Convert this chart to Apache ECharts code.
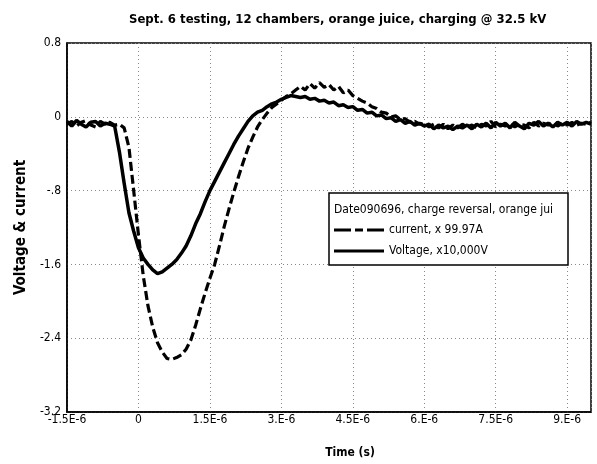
<!DOCTYPE html>
<html>
<head>
<meta charset="utf-8">
<script src="https://cdn.jsdelivr.net/npm/echarts@6/dist/echarts.min.js"></script>
<style>html,body{margin:0;padding:0;background:#fff}#c{width:597px;height:464px}</style>
</head>
<body>
<div id="c"></div>
<script>
// time in microseconds
var timeUs = [
  -1.5,-1.4,-1.3,-1.2,-1.1,-1.0,-0.9,-0.8,-0.7,-0.6,
  -0.5,-0.4,-0.3,-0.2,-0.1,0.0,0.1,0.2,0.3,0.4,
  0.5,0.6,0.7,0.8,0.9,1.0,1.1,1.2,1.3,1.4,
  1.5,1.6,1.7,1.8,1.9,2.0,2.1,2.2,2.3,2.4,
  2.5,2.6,2.7,2.8,2.9,3.0,3.1,3.2,3.3,3.4,
  3.5,3.6,3.7,3.8,3.9,4.0,4.1,4.2,4.3,4.4,
  4.5,4.6,4.7,4.8,4.9,5.0,5.1,5.2,5.3,5.4,
  5.5,5.6,5.7,5.8,5.9,6.0,6.1,6.2,6.3,6.4,
  6.5,6.6,6.7,6.8,6.9,7.0,7.1,7.2,7.3,7.4,
  7.5,7.6,7.7,7.8,7.9,8.0,8.1,8.2,8.3,8.4,
  8.5,8.6,8.7,8.8,8.9,9.0,9.1,9.2,9.3,9.4,
  9.5
];
var currentVals = [
  -0.08,-0.05,-0.10,-0.06,-0.04,-0.09,-0.11,-0.05,-0.08,-0.06,
  -0.09,-0.08,-0.12,-0.33,-0.80,-1.28,-1.72,-2.05,-2.28,-2.45,
  -2.55,-2.62,-2.63,-2.61,-2.58,-2.52,-2.42,-2.26,-2.08,-1.91,
  -1.75,-1.60,-1.40,-1.19,-1.00,-0.82,-0.65,-0.49,-0.34,-0.22,
  -0.11,-0.03,0.04,0.10,0.14,0.18,0.22,0.25,0.29,0.33,
  0.29,0.36,0.31,0.37,0.32,0.35,0.29,0.33,0.26,0.29,
  0.23,0.20,0.17,0.15,0.11,0.09,0.05,0.04,0.00,0.01,
  -0.03,-0.02,-0.06,-0.05,-0.08,-0.07,-0.11,-0.08,-0.12,-0.08,
  -0.13,-0.09,-0.12,-0.08,-0.11,-0.09,-0.12,-0.08,-0.10,-0.05,
  -0.11,-0.08,-0.10,-0.07,-0.11,-0.08,-0.09,-0.12,-0.06,-0.10,
  -0.07,-0.09,-0.06,-0.10,-0.07,-0.09,-0.06,-0.09,-0.07,-0.08,
  -0.06
];
var voltageVals = [
  -0.05,-0.10,-0.04,-0.08,-0.11,-0.06,-0.05,-0.10,-0.07,-0.08,
  -0.10,-0.38,-0.72,-1.04,-1.24,-1.42,-1.53,-1.60,-1.66,-1.70,
  -1.68,-1.64,-1.60,-1.55,-1.48,-1.40,-1.29,-1.16,-1.05,-0.92,
  -0.80,-0.70,-0.60,-0.50,-0.40,-0.30,-0.21,-0.13,-0.05,0.01,
  0.05,0.07,0.11,0.14,0.16,0.19,0.21,0.23,0.22,0.21,
  0.22,0.19,0.20,0.17,0.18,0.15,0.16,0.12,0.13,0.10,
  0.11,0.07,0.08,0.04,0.05,0.01,0.02,-0.02,-0.01,-0.05,
  -0.03,-0.07,-0.05,-0.09,-0.07,-0.10,-0.08,-0.13,-0.09,-0.12,
  -0.10,-0.14,-0.10,-0.12,-0.09,-0.13,-0.08,-0.11,-0.07,-0.12,
  -0.06,-0.10,-0.07,-0.12,-0.06,-0.10,-0.13,-0.07,-0.09,-0.05,
  -0.10,-0.07,-0.11,-0.06,-0.09,-0.06,-0.10,-0.05,-0.08,-0.06,
  -0.08
];
var xTickValues = [-1.5, 0, 1.5, 3, 4.5, 6, 7.5, 9];
var xTickLabels = ["-1.5E-6","0","1.5E-6","3.E-6","4.5E-6","6.E-6","7.5E-6","9.E-6"];
var yTickValues = [0.8, 0, -0.8, -1.6, -2.4, -3.2];
var yTickLabels = ["0.8","0","-.8","-1.6","-2.4","-3.2"];
var seriesNames = ["current, x 99.97A", "Voltage, x10,000V"];
var legendHeader = "Date090696, charge reversal, orange jui";
var chartTitle = "Sept. 6 testing, 12 chambers, orange juice, charging @ 32.5 kV";

var FONT = '"Liberation Sans Narrow","Arial Narrow","DejaVu Sans Condensed",sans-serif';

function zip(t, v){ return t.map(function(x,i){ return [x, v[i]]; }); }
function lookup(vals, labs, v){
  for (var i=0;i<vals.length;i++){ if (Math.abs(vals[i]-v) < 1e-6) return labs[i]; }
  return '';
}

var chart = echarts.init(document.getElementById('c'), null, {renderer:'canvas'});
chart.setOption({
  animation: false,
  backgroundColor: '#fff',
  title: [{
    text: chartTitle, left: 124, top: 8,
    textStyle: {fontFamily: FONT, fontWeight: 'bold', fontSize: 13, color: '#000'}
  },{
    text: legendHeader, left: 329, top: 199, z: 200,
    textStyle: {fontFamily: FONT, fontWeight: 'normal', fontSize: 12, color: '#000'}
  }],
  graphic: [{
    type: 'rect', z: 100,
    shape: {x: 329, y: 193, width: 239, height: 72},
    style: {fill: '#fff', stroke: '#000', lineWidth: 1.5}
  }],
  legend: {
    orient: 'vertical', left: 329, top: 219, z: 200,
    itemWidth: 50, itemHeight: 3, itemGap: 9, symbolKeepAspect: false,
    data: [
      {name: seriesNames[0], icon: 'path://M0,0h17v3h-17z M21,0h8v3h-8z M33,0h17v3h-17z'},
      {name: seriesNames[1], icon: 'path://M0,0h50v3h-50z'}
    ],
    itemStyle: {color: '#000'},
    textStyle: {fontFamily: FONT, fontSize: 12, color: '#000'}
  },
  grid: {left: 67, right: 6, top: 43, bottom: 51, show: true, borderColor: '#000', borderWidth: 1.5},
  xAxis: {
    type: 'value', min: -1.5, max: 9.5, interval: 1.5,
    name: 'Time (s)', nameLocation: 'middle', nameGap: 35,
    nameTextStyle: {fontFamily: FONT, fontWeight: 'bold', fontSize: 12, color: '#000', padding: [0,0,0,42]},
    axisLine: {show: true, onZero: false, lineStyle: {color: '#000', width: 1.5}},
    axisTick: {show: false},
    axisLabel: {margin: 2, fontFamily: FONT, fontSize: 12, color: '#000',
      formatter: function(v){ return lookup(xTickValues, xTickLabels, v); }},
    splitLine: {show: true, lineStyle: {color: '#888', type: [1,3], width: 1}}
  },
  yAxis: {
    type: 'value', min: -3.2, max: 0.8, interval: 0.8,
    name: 'Voltage & current', nameLocation: 'middle', nameGap: 33,
    nameTextStyle: {fontFamily: FONT, fontWeight: 'bold', fontSize: 15, color: '#000'},
    axisLine: {show: true, onZero: false, lineStyle: {color: '#000', width: 1.5}},
    axisTick: {show: false},
    axisLabel: {margin: 6, fontFamily: FONT, fontSize: 12, color: '#000',
      formatter: function(v){ return lookup(yTickValues, yTickLabels, v); }},
    splitLine: {show: true, lineStyle: {color: '#888', type: [1,3], width: 1}}
  },
  series: [{
    name: seriesNames[0], type: 'line', data: zip(timeUs, currentVals),
    showSymbol: false, symbol: 'none', color: '#000',
    lineStyle: {color: '#000', width: 3.2, type: [9,4]}
  },{
    name: seriesNames[1], type: 'line', data: zip(timeUs, voltageVals),
    showSymbol: false, symbol: 'none', color: '#000',
    lineStyle: {color: '#000', width: 3.5, type: 'solid'}
  }]
});
</script>
</body>
</html>
